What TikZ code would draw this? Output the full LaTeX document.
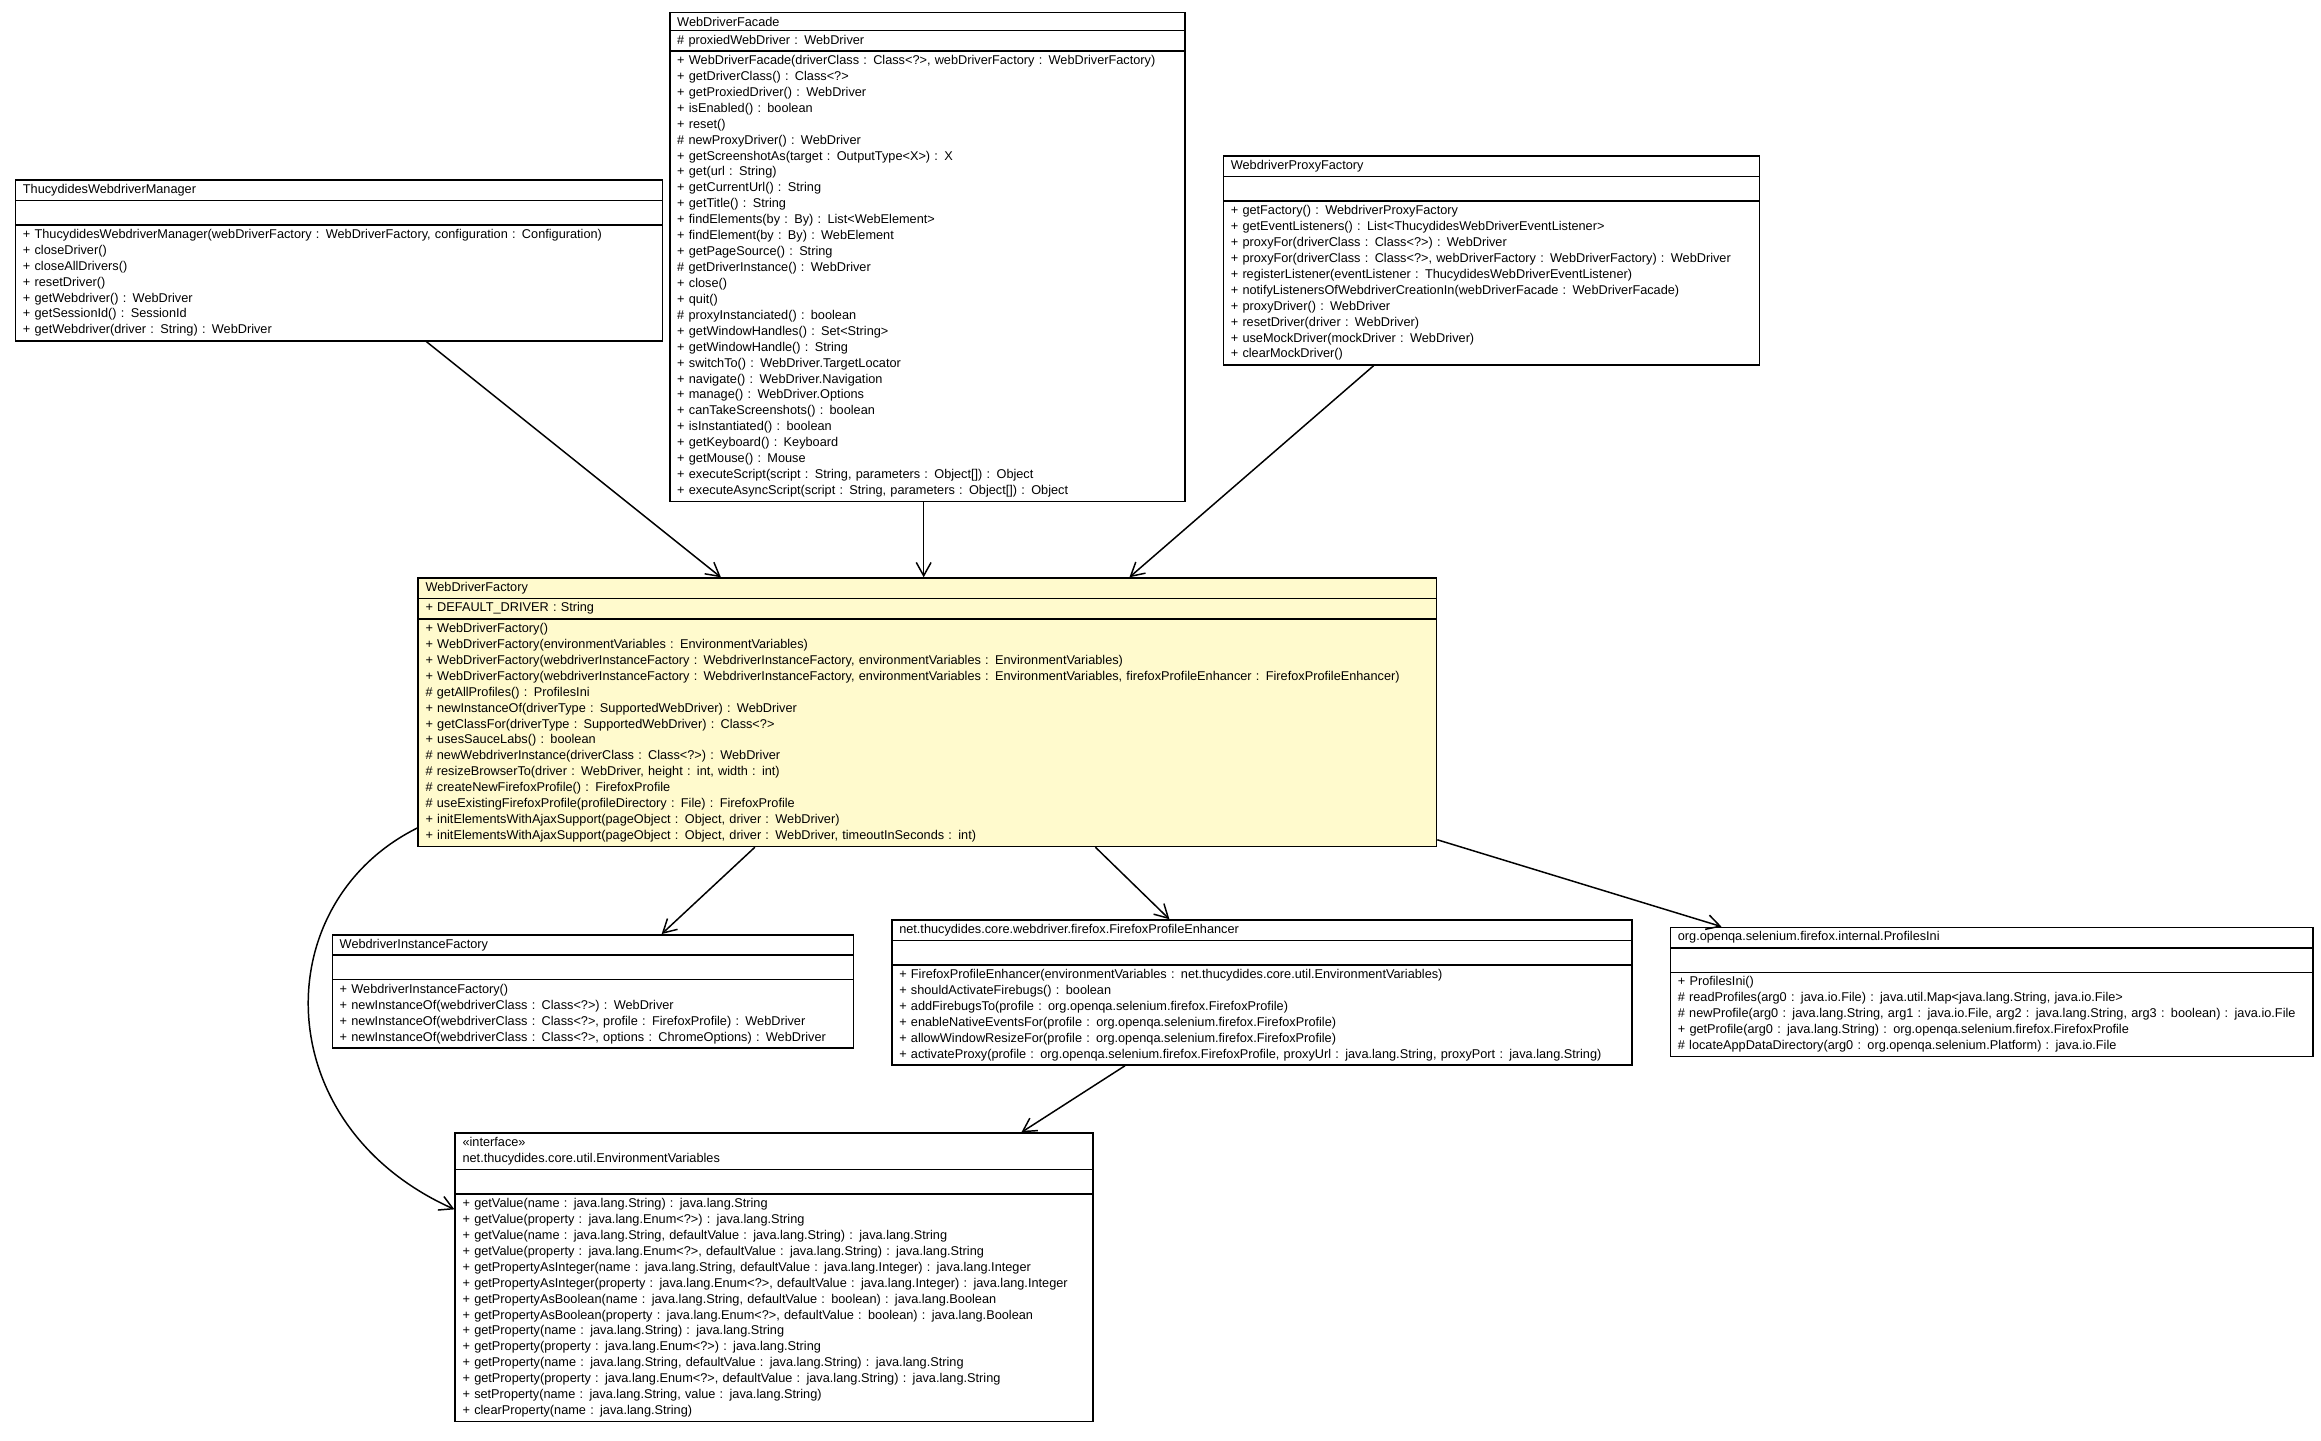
\documentclass[tikz,border=0pt]{standalone}
\usepackage{fontspec}
\setmainfont{Liberation Sans}
\usetikzlibrary{shapes.multipart,arrows.meta,calc}
\begin{document}
\begin{tikzpicture}[x=0.5pt,y=-0.5pt,
 cls/.style={draw,line width=0.5pt,rectangle split,rectangle split parts=3,anchor=north west,
  rectangle split part align={center,left,left},inner xsep=2.5pt,inner ysep=1.2pt,
  font=\fontsize{4.3pt}{5.38pt}\selectfont,fill=white},
 arr/.style={-{Straight Barb[length=4.5pt,width=5pt]},line width=0.5pt}]
\useasboundingbox (0,0) rectangle (1568,973);
\node[cls,text width=213.5pt] (mgr) at (10,121) {ThucydidesWebdriverManager\nodepart{two}\strut\nodepart{three}%
+ ThucydidesWebdriverManager(webDriverFactory : WebDriverFactory, configuration : Configuration)\\
+ closeDriver()\\+ closeAllDrivers()\\+ resetDriver()\\+ getWebdriver() : WebDriver\\+ getSessionId() : SessionId\\+ getWebdriver(driver : String) : WebDriver};
\node[cls,text width=169pt] (fac) at (452,8) {WebDriverFacade\nodepart{two}\# proxiedWebDriver : WebDriver\nodepart{three}%
+ WebDriverFacade(driverClass : Class<?>, webDriverFactory : WebDriverFactory)\\
+ getDriverClass() : Class<?>\\+ getProxiedDriver() : WebDriver\\+ isEnabled() : boolean\\+ reset()\\
\# newProxyDriver() : WebDriver\\+ getScreenshotAs(target : OutputType<X>) : X\\+ get(url : String)\\
+ getCurrentUrl() : String\\+ getTitle() : String\\+ findElements(by : By) : List<WebElement>\\
+ findElement(by : By) : WebElement\\+ getPageSource() : String\\\# getDriverInstance() : WebDriver\\
+ close()\\+ quit()\\\# proxyInstanciated() : boolean\\+ getWindowHandles() : Set<String>\\
+ getWindowHandle() : String\\+ switchTo() : WebDriver.TargetLocator\\+ navigate() : WebDriver.Navigation\\
+ manage() : WebDriver.Options\\+ canTakeScreenshots() : boolean\\+ isInstantiated() : boolean\\
+ getKeyboard() : Keyboard\\+ getMouse() : Mouse\\
+ executeScript(script : String, parameters : Object[]) : Object\\
+ executeAsyncScript(script : String, parameters : Object[]) : Object};
\node[cls,text width=176pt] (pxf) at (826,105) {WebdriverProxyFactory\nodepart{two}\strut\nodepart{three}%
+ getFactory() : WebdriverProxyFactory\\+ getEventListeners() : List<ThucydidesWebDriverEventListener>\\
+ proxyFor(driverClass : Class<?>) : WebDriver\\
+ proxyFor(driverClass : Class<?>, webDriverFactory : WebDriverFactory) : WebDriver\\
+ registerListener(eventListener : ThucydidesWebDriverEventListener)\\
+ notifyListenersOfWebdriverCreationIn(webDriverFacade : WebDriverFacade)\\
+ proxyDriver() : WebDriver\\+ resetDriver(driver : WebDriver)\\+ useMockDriver(mockDriver : WebDriver)\\+ clearMockDriver()};
\node[cls,text width=339pt,fill={rgb,255:red,255;green,250;blue,205}] (wdf) at (282,390) {WebDriverFactory\nodepart{two}+ DEFAULT\_DRIVER : String\nodepart{three}%
+ WebDriverFactory()\\+ WebDriverFactory(environmentVariables : EnvironmentVariables)\\
+ WebDriverFactory(webdriverInstanceFactory : WebdriverInstanceFactory, environmentVariables : EnvironmentVariables)\\
+ WebDriverFactory(webdriverInstanceFactory : WebdriverInstanceFactory, environmentVariables : EnvironmentVariables, firefoxProfileEnhancer : FirefoxProfileEnhancer)\\
\# getAllProfiles() : ProfilesIni\\+ newInstanceOf(driverType : SupportedWebDriver) : WebDriver\\
+ getClassFor(driverType : SupportedWebDriver) : Class<?>\\+ usesSauceLabs() : boolean\\
\# newWebdriverInstance(driverClass : Class<?>) : WebDriver\\
\# resizeBrowserTo(driver : WebDriver, height : int, width : int)\\
\# createNewFirefoxProfile() : FirefoxProfile\\
\# useExistingFirefoxProfile(profileDirectory : File) : FirefoxProfile\\
+ initElementsWithAjaxSupport(pageObject : Object, driver : WebDriver)\\
+ initElementsWithAjaxSupport(pageObject : Object, driver : WebDriver, timeoutInSeconds : int)};
\node[cls,text width=171pt] (wif) at (224,631) {WebdriverInstanceFactory\nodepart{two}\strut\nodepart{three}%
+ WebdriverInstanceFactory()\\+ newInstanceOf(webdriverClass : Class<?>) : WebDriver\\
+ newInstanceOf(webdriverClass : Class<?>, profile : FirefoxProfile) : WebDriver\\
+ newInstanceOf(webdriverClass : Class<?>, options : ChromeOptions) : WebDriver};
\node[cls,text width=245pt] (fpe) at (602,621) {net.thucydides.core.webdriver.firefox.FirefoxProfileEnhancer\nodepart{two}\strut\nodepart{three}%
+ FirefoxProfileEnhancer(environmentVariables : net.thucydides.core.util.EnvironmentVariables)\\
+ shouldActivateFirebugs() : boolean\\+ addFirebugsTo(profile : org.openqa.selenium.firefox.FirefoxProfile)\\
+ enableNativeEventsFor(profile : org.openqa.selenium.firefox.FirefoxProfile)\\
+ allowWindowResizeFor(profile : org.openqa.selenium.firefox.FirefoxProfile)\\
+ activateProxy(profile : org.openqa.selenium.firefox.FirefoxProfile, proxyUrl : java.lang.String, proxyPort : java.lang.String)};
\node[cls,text width=212pt] (pin) at (1128,626) {org.openqa.selenium.firefox.internal.ProfilesIni\nodepart{two}\strut\nodepart{three}%
+ ProfilesIni()\\\# readProfiles(arg0 : java.io.File) : java.util.Map<java.lang.String, java.io.File>\\
\# newProfile(arg0 : java.lang.String, arg1 : java.io.File, arg2 : java.lang.String, arg3 : boolean) : java.io.File\\
+ getProfile(arg0 : java.lang.String) : org.openqa.selenium.firefox.FirefoxProfile\\
\# locateAppDataDirectory(arg0 : org.openqa.selenium.Platform) : java.io.File};
\node[cls,text width=210.5pt] (env) at (307,765) {«interface»\\net.thucydides.core.util.EnvironmentVariables\nodepart{two}\strut\nodepart{three}%
+ getValue(name : java.lang.String) : java.lang.String\\
+ getValue(property : java.lang.Enum<?>) : java.lang.String\\
+ getValue(name : java.lang.String, defaultValue : java.lang.String) : java.lang.String\\
+ getValue(property : java.lang.Enum<?>, defaultValue : java.lang.String) : java.lang.String\\
+ getPropertyAsInteger(name : java.lang.String, defaultValue : java.lang.Integer) : java.lang.Integer\\
+ getPropertyAsInteger(property : java.lang.Enum<?>, defaultValue : java.lang.Integer) : java.lang.Integer\\
+ getPropertyAsBoolean(name : java.lang.String, defaultValue : boolean) : java.lang.Boolean\\
+ getPropertyAsBoolean(property : java.lang.Enum<?>, defaultValue : boolean) : java.lang.Boolean\\
+ getProperty(name : java.lang.String) : java.lang.String\\
+ getProperty(property : java.lang.Enum<?>) : java.lang.String\\
+ getProperty(name : java.lang.String, defaultValue : java.lang.String) : java.lang.String\\
+ getProperty(property : java.lang.Enum<?>, defaultValue : java.lang.String) : java.lang.String\\
+ setProperty(name : java.lang.String, value : java.lang.String)\\
+ clearProperty(name : java.lang.String)};
\draw[arr] ($(mgr.south west)+(278,0)$) -- ($(wdf.north west)+(205,0)$);
\draw[arr] ($(fac.south west)+(172,0)$) -- ($(wdf.north west)+(342,0)$);
\draw[arr] ($(pxf.south west)+(102,0)$) -- ($(wdf.north west)+(481,0)$);
\draw[arr] ($(wdf.south west)+(228,0)$) -- ($(wif.north west)+(223,0)$);
\draw[arr] ($(wdf.south west)+(458,0)$) -- ($(fpe.north west)+(188,0)$);
\draw[arr] ($(wdf.south east)+(0,-5)$) -- ($(pin.north west)+(35,0)$);
\draw[arr] ($(wdf.south west)+(0,-13)$) .. controls (180,610) and (180,760) .. ($(env.north west)+(0,52)$);
\draw[arr] ($(fpe.south west)+(158,0)$) -- ($(env.north west)+(383,0)$);
\end{tikzpicture}
\end{document}
